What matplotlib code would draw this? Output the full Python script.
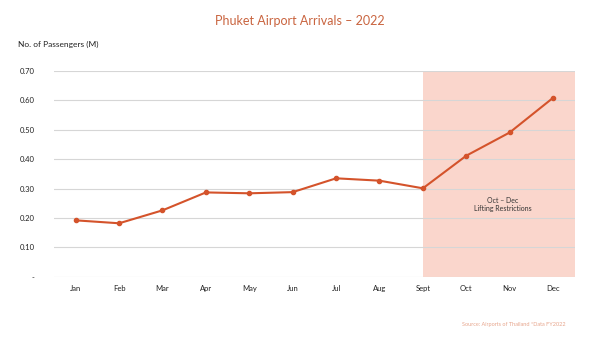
#!/usr/bin/env python3

import numpy as np
import matplotlib
matplotlib.use('Agg')
import matplotlib.pyplot as plt
from matplotlib import rcParams
rcParams['font.family'] = ['Lato', 'DejaVu Sans']

months = ['Jan', 'Feb', 'Mar', 'Apr', 'May', 'Jun', 'Jul', 'Aug', 'Sept', 'Oct', 'Nov', 'Dec']
passengers = [0.192, 0.182, 0.226, 0.287, 0.284, 0.288, 0.335, 0.327, 0.301, 0.412, 0.491, 0.609]
yticks = [0.0, 0.1, 0.2, 0.3, 0.4, 0.5, 0.6, 0.7]
ytick_labels = ['-', '0.10', '0.20', '0.30', '0.40', '0.50', '0.60', '0.70']

line_col = '#d4532b'
shade_col = '#fad6cc'
title_col = '#c9643f'

fig = plt.figure(figsize=(6, 3.4), dpi=100)
ax = fig.add_axes([0.09, 0.186, 0.868, 0.605])

x = np.arange(len(months))
ax.axvspan(8, 11.5, color=shade_col, lw=0, zorder=0)
for yv in yticks:
    ax.axhline(yv, color='#d6d6d6', lw=0.8, zorder=1)
ax.plot(x, passengers, color=line_col, lw=1.5, marker='o', ms=3, zorder=3)

ax.set_xlim(-0.5, 11.5)
ax.set_ylim(0, 0.7)
ax.set_xticks(x)
ax.set_xticklabels(months)
ax.set_yticks(yticks)
ax.set_yticklabels(ytick_labels)
ax.tick_params(axis='both', length=0, labelsize=5.5, colors='#222222')
ax.tick_params(axis='x', pad=6)
ax.tick_params(axis='y', pad=14)
for s in ax.spines.values():
    s.set_visible(False)

ax.text(9.83, 0.247, 'Oct \u2013 Dec\nLifting Restrictions', ha='center', va='center',
        fontsize=5, color='#333333', linespacing=1.2)

fig.text(0.5, 0.938, 'Phuket Airport Arrivals \u2013 2022', ha='center', va='center',
         fontsize=9, color=title_col)
fig.text(0.03, 0.868, 'No. of Passengers (M)', ha='left', va='center',
         fontsize=6, color='#222222')
fig.text(0.942, 0.046, 'Source: Airports of Thailand *Data FY2022', ha='right', va='center',
         fontsize=4, color='#e7a58c')

plt.savefig('out.png', dpi=100)
